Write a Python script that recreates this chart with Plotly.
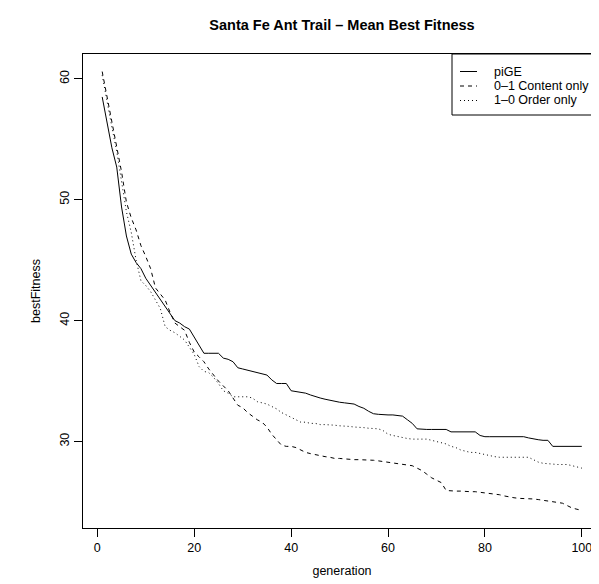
import plotly.graph_objects as go

generation = list(range(1, 101))

pige = [58.5, 56.5, 54.3, 52.7, 49.4, 47.0, 45.5, 44.8, 44.3, 43.5,
        42.9, 42.3, 41.8, 41.2, 40.5, 40.0, 39.8, 39.5, 39.3, 38.6,
        38.0, 37.3, 37.3, 37.3, 37.3, 36.9, 36.8, 36.6, 36.1, 36.0,
        35.9, 35.8, 35.7, 35.6, 35.5, 35.1, 34.8, 34.8, 34.8, 34.2,
        34.15, 34.1, 34.0, 33.85, 33.7, 33.6, 33.5, 33.4, 33.3, 33.25,
        33.2, 33.15, 33.1, 32.9, 32.75, 32.5, 32.3, 32.25, 32.2, 32.2,
        32.2, 32.15, 32.1, 31.8, 31.5, 31.05, 31.0, 31.0, 31.0, 31.0,
        31.0, 31.0, 30.8, 30.8, 30.8, 30.8, 30.8, 30.8, 30.5, 30.4,
        30.4, 30.4, 30.4, 30.4, 30.4, 30.4, 30.4, 30.4, 30.3, 30.2,
        30.15, 30.1, 30.1, 29.6, 29.6, 29.6, 29.6, 29.6, 29.6, 29.6]

content_only = [60.6, 58.6, 56.6, 54.6, 52.3, 49.8, 48.5, 47.5, 46.2, 45.3,
                44.3, 42.7, 42.2, 41.7, 40.7, 39.8, 39.5, 39.2, 38.2, 37.4,
                37.0, 36.6, 36.0, 35.5, 35.0, 34.6, 34.2, 33.6, 33.0, 32.8,
                32.4, 32.1, 31.8, 31.6, 31.2, 30.6, 30.1, 29.7, 29.6, 29.6,
                29.5, 29.3, 29.1, 29.0, 28.9, 28.8, 28.75, 28.7, 28.6, 28.6,
                28.55, 28.55, 28.5, 28.5, 28.5, 28.5, 28.45, 28.4, 28.35, 28.3,
                28.25, 28.2, 28.15, 28.1, 28.0, 27.8, 27.6, 27.3, 27.0, 26.8,
                26.6, 25.95, 25.9, 25.9, 25.9, 25.85, 25.85, 25.85, 25.8, 25.75,
                25.7, 25.7, 25.6, 25.5, 25.4, 25.35, 25.3, 25.3, 25.3, 25.25,
                25.2, 25.15, 25.1, 25.05, 25.0, 24.9, 24.7, 24.5, 24.4, 24.3]

order_only = [60.3, 58.0, 56.0, 54.0, 51.5, 49.0, 47.3, 45.0, 43.3, 42.9,
              42.4, 41.7, 41.0, 39.5, 39.2, 39.0, 38.7, 38.4, 37.8, 37.2,
              36.2, 35.8, 35.7, 35.3, 34.8, 34.2, 34.0, 33.7, 33.7, 33.7,
              33.7, 33.6, 33.3, 33.2, 33.1, 32.9, 32.7, 32.4, 32.2, 32.0,
              31.8, 31.6, 31.6, 31.5, 31.5, 31.4, 31.4, 31.4, 31.35, 31.3,
              31.3, 31.25, 31.2, 31.2, 31.15, 31.1, 31.1, 31.05, 30.9, 30.6,
              30.5, 30.4, 30.3, 30.25, 30.2, 30.2, 30.2, 30.2, 30.1, 30.0,
              29.9, 29.8, 29.6, 29.5, 29.3, 29.2, 29.1, 29.1, 29.0, 28.9,
              28.8, 28.75, 28.7, 28.7, 28.7, 28.7, 28.7, 28.7, 28.7, 28.5,
              28.3, 28.2, 28.15, 28.15, 28.1, 28.1, 28.1, 28.0, 27.9, 27.8]

series_names = ["piGE", "0\u20131 Content only", "1\u20130 Order only"]
x_ticks = [0, 20, 40, 60, 80, 100]
y_ticks = [30, 40, 50, 60]

FONT = "Liberation Sans, Arial, Helvetica, sans-serif"

# plot-area pixel box used for the layout
L, R, T, B = 75, 593, 46, 520
W, H = 599, 584


def r_range(vals):
    lo, hi = min(vals), max(vals)
    pad = (hi - lo) * 0.04
    return [lo - pad, hi + pad]


def px_x(p):
    return (p - L) / (R - L)


def px_y(p):
    return (B - p) / (B - T)


all_y = pige + content_only + order_only
styles = ["solid", "4px,4px", "1px,3px"]

fig = go.Figure()
for name, ys, dash in zip(series_names, [pige, content_only, order_only], styles):
    fig.add_trace(go.Scatter(x=generation, y=ys, mode="lines", name=name,
                             showlegend=False,
                             line=dict(color="black", width=1, dash=dash)))

# legend box (top-right, R style)
shapes = [dict(type="rect", xref="paper", yref="paper",
               x0=px_x(444), x1=1, y0=px_y(107), y1=1,
               line=dict(color="black", width=1), fillcolor="white", layer="above")]
annotations = []
rows = [63.5, 78, 92.5]
for name, dash, ry in zip(series_names, styles, rows):
    shapes.append(dict(type="line", xref="paper", yref="paper",
                       x0=px_x(452), x1=px_x(469), y0=px_y(ry), y1=px_y(ry),
                       line=dict(color="black", width=1, dash=dash), layer="above"))
    annotations.append(dict(xref="paper", yref="paper", x=px_x(484), y=px_y(ry),
                            xanchor="left", yanchor="middle", showarrow=False,
                            text=name, font=dict(family=FONT, size=12.5, color="black")))

axis_common = dict(showline=True, linecolor="black", linewidth=1, mirror=True,
                   ticks="outside", ticklen=8, tickcolor="black", tickwidth=1,
                   showgrid=False, zeroline=False,
                   tickfont=dict(family=FONT, size=12.5, color="black"))

fig.update_layout(
    width=W, height=H,
    margin=dict(l=L, r=W - R, t=T, b=H - B),
    paper_bgcolor="white", plot_bgcolor="white",
    title=dict(text="<b>Santa Fe Ant Trail \u2013 Mean Best Fitness</b>",
               x=(L + R) / 2 / W, xanchor="center", y=1 - 17 / H, yanchor="middle",
               font=dict(family=FONT, size=14.5, color="black")),
    xaxis=dict(range=r_range(generation), tickvals=x_ticks,
               title=dict(text="generation", font=dict(family=FONT, size=12.5, color="black"),
                          standoff=12),
               **axis_common),
    yaxis=dict(range=r_range(all_y), tickvals=y_ticks, tickangle=-90,
               title=dict(text="bestFitness", font=dict(family=FONT, size=12.5, color="black"),
                          standoff=14),
               **axis_common),
    showlegend=False,
    shapes=shapes,
    annotations=annotations,
)

fig.write_html("out.html")
